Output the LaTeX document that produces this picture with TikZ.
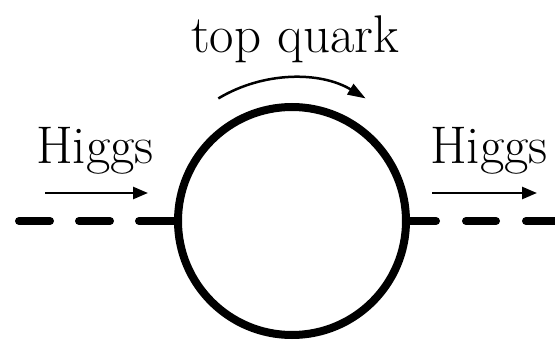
\documentclass[tikz,border=0pt]{standalone}
\usetikzlibrary{arrows.meta}
\begin{document}
\begin{tikzpicture}[x=1pt,y=1pt,
  lbl/.style={font=\fontsize{53}{62}\selectfont, inner sep=0pt},
  loopstyle/.style={circle, draw, line width=8pt, minimum size=228pt, inner sep=0pt},
  higgsline/.style={line width=8pt, line cap=round},
  flowarrow/.style={line width=2.5pt, -{Triangle[length=15pt,width=12pt]}}
]
\useasboundingbox (0,0) rectangle (555,341);
\node[loopstyle] (loop) at (292,120) {};
\coordinate (lend) at (19,120);
\coordinate (rend) at (559,120);
\draw[higgsline, dash pattern=on 35pt off 29pt on 31pt off 29pt on 31pt off 40pt] (loop.west) -- (lend);
\draw[higgsline, dash pattern=on 26pt off 30pt on 30pt off 30pt on 40pt off 10pt] (loop.east) -- (rend);
% labels
\node[lbl, anchor=base] (tq) at (295,288) {top quark};
\node[lbl, anchor=base] (hl) at (95,178) {Higgs};
\node[lbl, anchor=base west] (hr) at (430,178) {Higgs};
% flow arrows
\coordinate (la1) at (45,148);
\coordinate (la2) at (148,148);
\coordinate (ra1) at (432,148);
\coordinate (ra2) at (537,148);
\draw[flowarrow] (la1) -- (la2);
\draw[flowarrow] (ra1) -- (ra2);
\draw[line width=2.5pt, -{Triangle[length=18pt,width=12pt]}] (loop.center) ++(121:143pt) arc[start angle=121, end angle=59, radius=143pt];
\end{tikzpicture}
\end{document}
